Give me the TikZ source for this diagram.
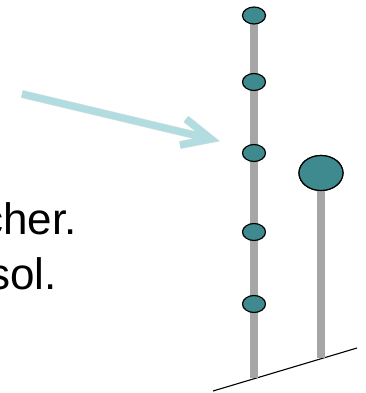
\documentclass[tikz,border=0pt]{standalone}
\usepackage{fontspec}
\setmainfont{Liberation Sans}
\usetikzlibrary{shapes.geometric}
\definecolor{teal1}{HTML}{3E8A8E}
\definecolor{stemgray}{HTML}{A6A6A6}
\definecolor{arrowblue}{HTML}{B2DDE0}
\begin{document}
\begin{tikzpicture}[x=1pt,y=-1pt,
  stem/.style={draw=stemgray,line width=8pt},
  bud/.style={ellipse,draw=black,line width=1.2pt,fill=teal1,minimum width=23pt,minimum height=17pt,inner sep=0pt},
  bigbud/.style={ellipse,draw=black,line width=1.2pt,fill=teal1,minimum width=44pt,minimum height=35pt,inner sep=0pt},
  pointer/.style={draw=arrowblue,line width=7pt,line join=miter,miter limit=4},
  shadowline/.style={draw=black!35,opacity=0.35,line width=8pt,line join=miter,miter limit=4},
  txt/.style={font=\fontsize{44}{52}\selectfont,inner sep=0pt,anchor=base east}]
\useasboundingbox (0,0) rectangle (365,393);
\clip (0,0) rectangle (365,393);
% ground
\coordinate (g1) at (213,391);
\coordinate (g2) at (357,348);
\draw[line width=1.1pt] (g1) -- (g2);
% stems
\coordinate (s1top) at (254,15);
\coordinate (s1bot) at (254,378);
\coordinate (s2bot) at (321,358);
\draw[stem] (s1top) -- (s1bot);
\node[bigbud] (big) at (321,173) {};
\draw[stem] (big.south) -- (s2bot);
\node[bigbud] at (321,173) {};
% buds
\node[bud] (b1) at (254,15.5) {};
\node[bud] (b2) at (254,82) {};
\node[bud] (b3) at (254,153) {};
\node[bud] (b4) at (254,232) {};
\node[bud] (b5) at (254,304) {};
% arrow
\coordinate (a0) at (22,94);
\coordinate (tip) at (211,139);
\coordinate (armU) at (186,119);
\coordinate (armL) at (180,145);
\begin{scope}[shift={(2,3)}]
\draw[shadowline] (a0) -- (tip);
\draw[shadowline] (armU) -- (tip) -- (armL);
\end{scope}
\draw[pointer] (a0) -- (tip);
\draw[pointer] (armU) -- (tip) -- (armL);
% text
\node[txt] (t1) at (77,234) {cher.};
\node[txt] (t2) at (57,289) {sol.};
\end{tikzpicture}
\end{document}
